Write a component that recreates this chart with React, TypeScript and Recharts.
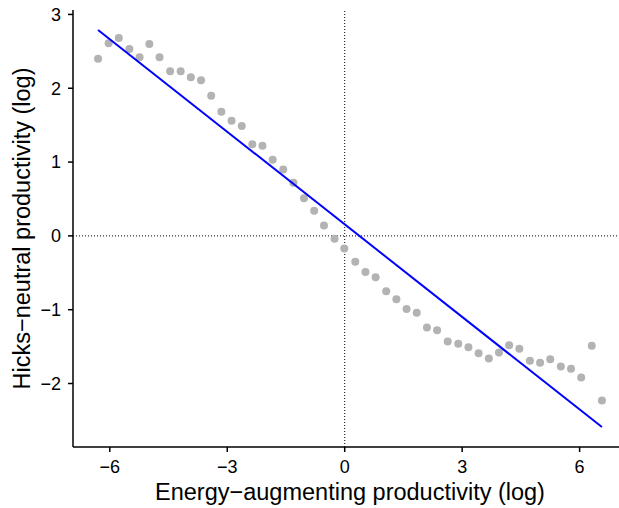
import React from "react";
import {
  ScatterChart,
  Scatter,
  XAxis,
  YAxis,
  ReferenceLine,
} from "recharts";

// energy-augmenting productivity (log), one value per point
const energyLog = [
  -6.3, -6.03, -5.77, -5.5, -5.24, -4.99, -4.73, -4.46, -4.19, -3.93,
  -3.67, -3.41, -3.15, -2.89, -2.63, -2.36, -2.1, -1.84, -1.57, -1.31,
  -1.04, -0.78, -0.53, -0.26, -0.01, 0.27, 0.53, 0.79, 1.06, 1.32,
  1.58, 1.84, 2.1, 2.36, 2.63, 2.9, 3.16, 3.42, 3.68, 3.94,
  4.2, 4.46, 4.73, 4.99, 5.25, 5.52, 5.78, 6.04, 6.31, 6.57,
];

// hicks-neutral productivity (log)
const hicksLog = [
  2.4, 2.61, 2.68, 2.53, 2.42, 2.6, 2.42, 2.23, 2.23, 2.15,
  2.11, 1.9, 1.68, 1.56, 1.49, 1.24, 1.22, 1.03, 0.9, 0.72,
  0.51, 0.34, 0.14, -0.04, -0.17, -0.35, -0.49, -0.56, -0.75, -0.86,
  -0.99, -1.04, -1.24, -1.28, -1.43, -1.46, -1.51, -1.59, -1.66, -1.58,
  -1.48, -1.53, -1.69, -1.72, -1.67, -1.77, -1.8, -1.92, -1.49, -2.23,
];

// endpoints of the fitted line
const fitX = [-6.3, 6.57];
const fitY = [2.79, -2.59];

const xTicks = [-6, -3, 0, 3, 6];
const yTicks = [-2, -1, 0, 1, 2, 3];

const points = energyLog.map((x, i) => ({ x, y: hicksLog[i] }));
const fit = fitX.map((x, i) => ({ x, y: fitY[i] }));

const FONT = "'Liberation Sans', Arial, sans-serif";
const fmt = (v: number) => String(v).replace("-", "\u2212");

const Dot = (p: any) => (
  <circle cx={p.cx} cy={p.cy} r={4} fill="#B3B3B3" />
);

const YTitle = (props: any) => {
  const vb = props.viewBox;
  const cy = vb.y + vb.height / 2;
  return (
    <text
      x={29.5}
      y={cy}
      transform={`rotate(-90, 29.5, ${cy})`}
      textAnchor="middle"
      fontFamily={FONT}
      fontSize={23.5}
      fill="#000"
    >
      Hicks{"\u2212"}neutral productivity (log)
    </text>
  );
};

export default function App() {
  return (
    <div
      style={{
        position: "absolute",
        left: 0,
        top: 0,
        width: 619,
        height: 508,
        overflow: "hidden",
        background: "#fff",
      }}
    >
      <ScatterChart
        width={640}
        height={508}
        margin={{ top: 10, right: 13, bottom: 0, left: 0 }}
      >
        <XAxis
          type="number"
          dataKey="x"
          domain={[-6.94, 7.21]}
          allowDataOverflow
          ticks={xTicks}
          tickFormatter={fmt}
          height={61}
          tickSize={5}
          tickMargin={8}
          axisLine={{ stroke: "#000", strokeWidth: 1.5 }}
          tickLine={{ stroke: "#000", strokeWidth: 1.5 }}
          tick={{ fill: "#000", fontSize: 18, fontFamily: FONT }}
          label={{
            value: "Energy\u2212augmenting productivity (log)",
            position: "insideBottom",
            offset: 8,
            fill: "#000",
            fontSize: 23.5,
            fontFamily: FONT,
          }}
        />
        <YAxis
          type="number"
          dataKey="y"
          domain={[-2.86, 3.06]}
          allowDataOverflow
          ticks={yTicks}
          tickFormatter={fmt}
          width={73}
          tickSize={5}
          tickMargin={7}
          axisLine={{ stroke: "#000", strokeWidth: 1.5 }}
          tickLine={{ stroke: "#000", strokeWidth: 1.5 }}
          tick={{ fill: "#000", fontSize: 18, fontFamily: FONT }}
          label={<YTitle />}
        />
        <ReferenceLine x={0} stroke="#000" strokeWidth={1} strokeDasharray="1 2" />
        <ReferenceLine y={0} stroke="#000" strokeWidth={1} strokeDasharray="1 2" />
        <Scatter data={points} shape={Dot} isAnimationActive={false} />
        <Scatter
          data={fit}
          shape={() => <g />}
          line={{ stroke: "#0000FF", strokeWidth: 2 }}
          isAnimationActive={false}
        />
      </ScatterChart>
    </div>
  );
}
